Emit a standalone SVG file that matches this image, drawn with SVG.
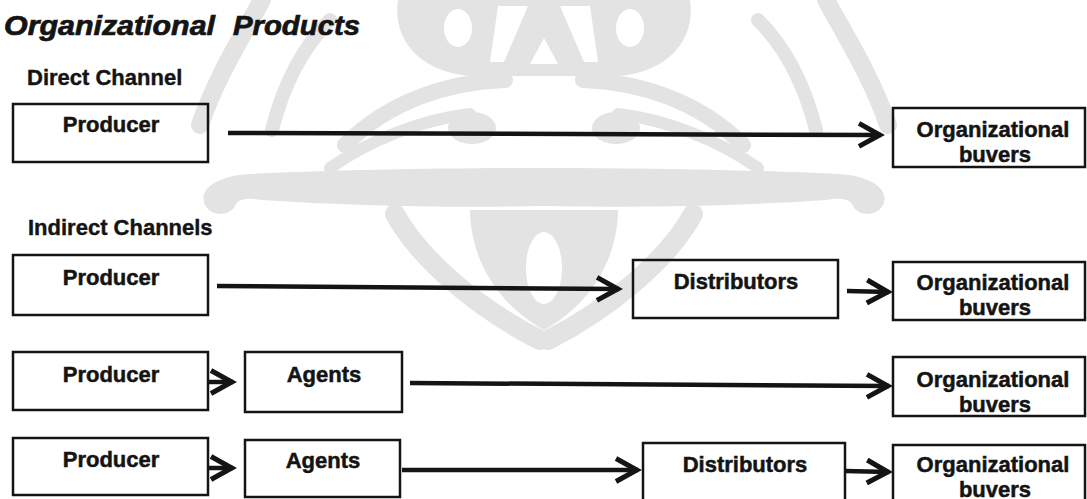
<svg xmlns="http://www.w3.org/2000/svg" xmlns:xlink="http://www.w3.org/1999/xlink" width="1087" height="499" viewBox="0 0 1087 499">
  <style>
    .node rect { fill: none; stroke: #141414; stroke-width: 2.5; }
    .lbl { font-family: "Liberation Sans", Arial, sans-serif; font-weight: bold; font-size: 22px; fill: #141414; stroke: #141414; stroke-width: 0.5; text-anchor: middle; }
    .head { font-family: "Liberation Sans", Arial, sans-serif; font-weight: bold; font-size: 22px; fill: #141414; stroke: #141414; stroke-width: 0.4; }
    .title { font-family: "Liberation Sans", Arial, sans-serif; font-weight: bold; font-style: italic; font-size: 27px; fill: #141414; stroke: #141414; stroke-width: 0.7; }
    .conn { fill: none; stroke: #141414; stroke-width: 4.5; marker-end: url(#ah); }
    .wm { fill: none; stroke: #e3e3e3; stroke-linecap: round; }
    .wmf { fill: #e3e3e3; }
  </style>
  <defs>
    <marker id="ah" markerUnits="userSpaceOnUse" viewBox="-30 -16 32 32" markerWidth="32" markerHeight="32" refX="-4" refY="0" orient="auto">
      <path d="M-26,-11.5 L-5.2,0 L-26,11.5" fill="none" stroke="#141414" stroke-width="5" stroke-linejoin="miter"/>
    </marker>
    <!-- left half of the background emblem, mirrored for the right half -->
    <g id="wm-half">
      <path class="wmf" d="M544,0 L398,0 C392,40 420,72 470,76 L544,76 Z"/>
      <ellipse cx="458" cy="28" rx="14" ry="19" fill="#ffffff"/>
      <path d="M498,6 L528,6 L504,62 L490,62 Z" fill="#ffffff"/>
      <path d="M544,38 L530,64 L544,64 Z" fill="#ffffff"/>
      <path class="wm" stroke-width="16" d="M505,80 C450,82 390,100 345,145"/>
      <path class="wm" stroke-width="12" d="M470,114 C420,120 370,140 330,168"/>
      <ellipse class="wmf" cx="472" cy="128" rx="24" ry="16"/>
      <path class="wm" stroke-width="18" d="M262,0 C240,40 215,80 200,125"/>
      <path class="wm" stroke-width="14" d="M330,20 C300,50 282,90 272,130"/>
      <path class="wmf" d="M544,168 C450,168 330,170 250,174 C215,176 198,190 205,205 C212,218 232,216 236,204 C240,198 250,198 262,200 C350,206 450,208 544,206 Z"/>
      <path class="wm" stroke-width="20" d="M395,214 C420,260 480,310 540,340"/>
      <path class="wmf" d="M544,210 L470,210 C470,250 490,300 544,330 Z"/>
      <ellipse cx="544" cy="268" rx="18" ry="36" fill="#ffffff"/>
    </g>
  </defs>

  <rect x="0" y="0" width="1087" height="499" fill="#ffffff"/>

  <g id="watermark">
    <use xlink:href="#wm-half"/>
    <use xlink:href="#wm-half" transform="matrix(-1 0 0 1 1088 0)"/>
  </g>

  <!-- headings -->
  <text class="title" x="4" y="35" textLength="211" lengthAdjust="spacingAndGlyphs">Organizational</text>
  <text class="title" x="233" y="35" textLength="127" lengthAdjust="spacingAndGlyphs">Products</text>
  <text class="head" x="27" y="85">Direct Channel</text>
  <text class="head" x="28" y="235">Indirect Channels</text>

  <!-- connectors -->
  <g id="connectors">
    <path class="conn" d="M228,133 L881,135"/>
    <path class="conn" d="M217,286 L619,289"/>
    <path class="conn" d="M847,291 L889,292"/>
    <path class="conn" d="M208,382 L233,382"/>
    <path class="conn" d="M410,383 L889,386"/>
    <path class="conn" d="M208,468 L233,468"/>
    <path class="conn" d="M402,470 L638,470"/>
    <path class="conn" d="M845,471 L889,472"/>
  </g>

  <!-- direct channel -->
  <g id="producer-1" class="node">
    <rect x="13" y="104" width="195" height="58"/>
    <text class="lbl" x="111" y="132">Producer</text>
  </g>
  <g id="buyers-1" class="node">
    <rect x="893" y="108" width="192" height="59"/>
    <text class="lbl" x="993" y="137">Organizational</text>
    <text class="lbl" x="995" y="162">buvers</text>
  </g>

  <!-- producer > distributors > buyers -->
  <g id="producer-2" class="node">
    <rect x="13" y="255" width="195" height="60"/>
    <text class="lbl" x="111" y="285">Producer</text>
  </g>
  <g id="distributors-1" class="node">
    <rect x="633" y="260" width="205" height="58"/>
    <text class="lbl" x="736" y="289">Distributors</text>
  </g>
  <g id="buyers-2" class="node">
    <rect x="893" y="262" width="192" height="58"/>
    <text class="lbl" x="993" y="290">Organizational</text>
    <text class="lbl" x="995" y="315">buvers</text>
  </g>

  <!-- producer > agents > buyers -->
  <g id="producer-3" class="node">
    <rect x="13" y="352" width="195" height="58"/>
    <text class="lbl" x="111" y="382">Producer</text>
  </g>
  <g id="agents-1" class="node">
    <rect x="245" y="352" width="157" height="60"/>
    <text class="lbl" x="324" y="382">Agents</text>
  </g>
  <g id="buyers-3" class="node">
    <rect x="893" y="357" width="192" height="59"/>
    <text class="lbl" x="993" y="387">Organizational</text>
    <text class="lbl" x="995" y="412">buvers</text>
  </g>

  <!-- producer > agents > distributors > buyers -->
  <g id="producer-4" class="node">
    <rect x="13" y="438" width="195" height="57"/>
    <text class="lbl" x="111" y="467">Producer</text>
  </g>
  <g id="agents-2" class="node">
    <rect x="245" y="440" width="155" height="57"/>
    <text class="lbl" x="323" y="468">Agents</text>
  </g>
  <g id="distributors-2" class="node">
    <rect x="643" y="443" width="202" height="70"/>
    <text class="lbl" x="745" y="472">Distributors</text>
  </g>
  <g id="buyers-4" class="node">
    <rect x="893" y="445" width="192" height="70"/>
    <text class="lbl" x="993" y="472">Organizational</text>
    <text class="lbl" x="995" y="497">buvers</text>
  </g>
</svg>
